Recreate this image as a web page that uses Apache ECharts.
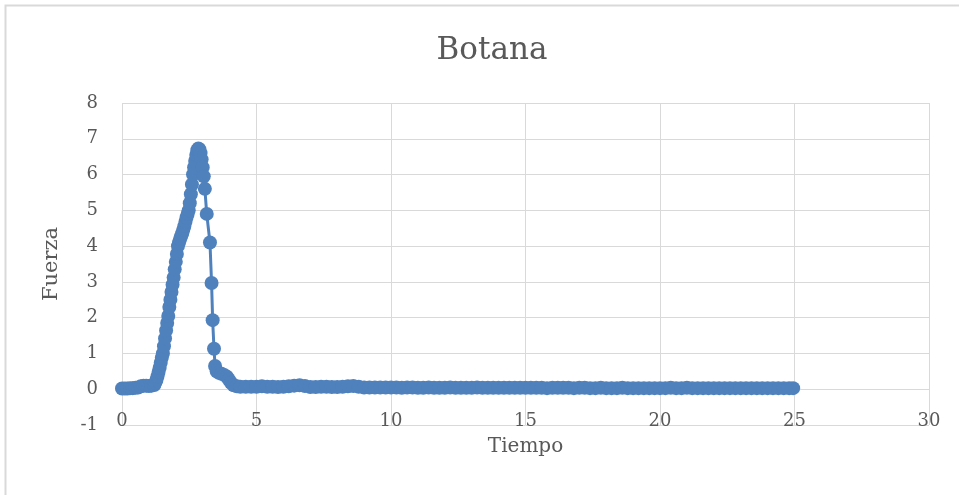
<!DOCTYPE html>
<html>
<head>
<meta charset="utf-8">
<script src="https://cdn.jsdelivr.net/npm/echarts@6/dist/echarts.min.js"></script>
<style>
  html, body { margin: 0; padding: 0; background: #fff; }
  #chart { width: 959px; height: 495px; }
</style>
</head>
<body>
<div id="chart"></div>
<script>
// tiempo (s) y fuerza
var tiempo = [
  0, 0.1, 0.2, 0.3, 0.4, 0.5, 0.6, 0.7, 0.8, 0.9, 1.0, 1.1,
  1.20, 1.24, 1.28, 1.32, 1.36, 1.40, 1.44, 1.48, 1.52, 1.56, 1.60, 1.64, 1.68, 1.72, 1.76, 1.80,
  1.84, 1.88, 1.92, 1.96, 2.00, 2.04, 2.08, 2.12, 2.16, 2.20, 2.24, 2.28, 2.32, 2.36, 2.40, 2.44,
  2.48, 2.52, 2.56, 2.60, 2.64, 2.68, 2.72, 2.76, 2.80, 2.84, 2.88, 2.92, 2.96, 3.00, 3.04, 3.08,
  3.15, 3.27, 3.33, 3.37, 3.42, 3.46, 3.52, 3.60, 3.70, 3.80, 3.90, 3.97, 4.05, 4.15, 4.27, 4.40,
  4.6, 4.8, 5.0, 5.2, 5.4, 5.6, 5.8, 6.0, 6.2, 6.4, 6.6, 6.8, 7.0, 7.2, 7.4, 7.6, 7.8, 8.0,
  8.2, 8.4, 8.6, 8.8, 9.0, 9.2, 9.4, 9.6, 9.8,
  10.0, 10.2, 10.4, 10.6, 10.8, 11.0, 11.2, 11.4, 11.6, 11.8, 12.0, 12.2, 12.4, 12.6, 12.8,
  13.0, 13.2, 13.4, 13.6, 13.8, 14.0, 14.2, 14.4, 14.6, 14.8,
  15.0, 15.2, 15.4, 15.6, 15.8, 16.0, 16.2, 16.4, 16.6, 16.8, 17.0, 17.2, 17.4, 17.6, 17.8,
  18.0, 18.2, 18.4, 18.6, 18.8, 19.0, 19.2, 19.4, 19.6, 19.8,
  20.0, 20.2, 20.4, 20.6, 20.8, 21.0, 21.2, 21.4, 21.6, 21.8, 22.0, 22.2, 22.4, 22.6, 22.8,
  23.0, 23.2, 23.4, 23.6, 23.8, 24.0, 24.2, 24.4, 24.6, 24.8, 24.95
];
var fuerza = [
  0.02, 0.02, 0.02, 0.03, 0.03, 0.04, 0.05, 0.08, 0.1, 0.1, 0.09, 0.1,
  0.12, 0.18, 0.26, 0.36, 0.48, 0.6, 0.74, 0.88, 1.0, 1.2, 1.42, 1.64, 1.85, 2.05, 2.3, 2.5,
  2.72, 2.92, 3.12, 3.35, 3.56, 3.78, 4.0, 4.1, 4.2, 4.28, 4.36, 4.46, 4.56, 4.68, 4.8, 4.9,
  5.0, 5.2, 5.45, 5.72, 6.0, 6.2, 6.38, 6.55, 6.68, 6.73, 6.7, 6.6, 6.42, 6.2, 5.95, 5.6,
  4.9, 4.1, 2.97, 1.93, 1.13, 0.65, 0.5, 0.46, 0.43, 0.4, 0.35, 0.27, 0.18, 0.11, 0.08, 0.07,
  0.07, 0.07, 0.07, 0.08, 0.07, 0.07, 0.06, 0.07, 0.08, 0.1, 0.11, 0.09, 0.06, 0.06, 0.07, 0.07, 0.06, 0.06,
  0.07, 0.08, 0.09, 0.07, 0.05, 0.05, 0.05, 0.05, 0.05,
  0.05, 0.05, 0.04, 0.05, 0.05, 0.04, 0.04, 0.05, 0.04, 0.04, 0.04, 0.05, 0.04, 0.04, 0.04,
  0.04, 0.05, 0.04, 0.04, 0.04, 0.04, 0.04, 0.04, 0.04, 0.04,
  0.04, 0.04, 0.04, 0.04, 0.03, 0.04, 0.04, 0.04, 0.04, 0.03, 0.04, 0.04, 0.03, 0.03, 0.04,
  0.03, 0.03, 0.03, 0.04, 0.03, 0.03, 0.03, 0.03, 0.03, 0.03,
  0.03, 0.03, 0.04, 0.03, 0.03, 0.04, 0.03, 0.03, 0.03, 0.03, 0.03, 0.03, 0.03, 0.03, 0.03,
  0.03, 0.03, 0.03, 0.03, 0.03, 0.03, 0.03, 0.03, 0.03, 0.03, 0.03
];

var font = '"DejaVu Serif", serif';
var textColor = '#595959';
var gridColor = '#d9d9d9';

var chart = echarts.init(document.getElementById('chart'));
chart.setOption({
  animation: false,
  backgroundColor: '#fff',
  title: {
    text: 'Botana',
    left: 487,
    top: 30,
    textAlign: 'center',
    textStyle: { fontFamily: font, fontSize: 31, fontWeight: 'normal', color: textColor }
  },
  graphic: [{
    type: 'rect',
    shape: { x: 5.5, y: 5.5, width: 1000, height: 1000 },
    style: { fill: 'none', stroke: gridColor, lineWidth: 2 },
    silent: true
  }],
  grid: { left: 122, right: 30, top: 103, bottom: 70 },
  xAxis: {
    type: 'value',
    min: 0, max: 30, interval: 5,
    name: 'Tiempo',
    nameLocation: 'middle',
    nameGap: 12,
    nameTextStyle: { fontFamily: font, fontSize: 20, color: textColor },
    axisLine: { show: false },
    axisTick: { show: false },
    splitLine: { lineStyle: { color: gridColor, width: 1 } },
    axisLabel: { fontFamily: font, fontSize: 18, color: textColor, margin: -4, verticalAlign: 'middle' }
  },
  yAxis: {
    type: 'value',
    min: -1, max: 8, interval: 1,
    name: 'Fuerza',
    nameLocation: 'middle',
    nameGap: 60,
    nameTextStyle: { fontFamily: font, fontSize: 21, color: textColor },
    axisLine: { show: false },
    axisTick: { show: false },
    splitLine: { lineStyle: { color: gridColor, width: 1 } },
    axisLabel: { fontFamily: font, fontSize: 18, color: textColor, margin: 24 }
  },
  series: [{
    type: 'line',
    data: tiempo.map(function (t, i) { return [t, fuerza[i]]; }),
    symbol: 'circle',
    symbolSize: 14,
    showAllSymbol: true,
    itemStyle: { color: '#4F81BD' },
    lineStyle: { color: '#4F81BD', width: 3 }
  }]
});
</script>
</body>
</html>
